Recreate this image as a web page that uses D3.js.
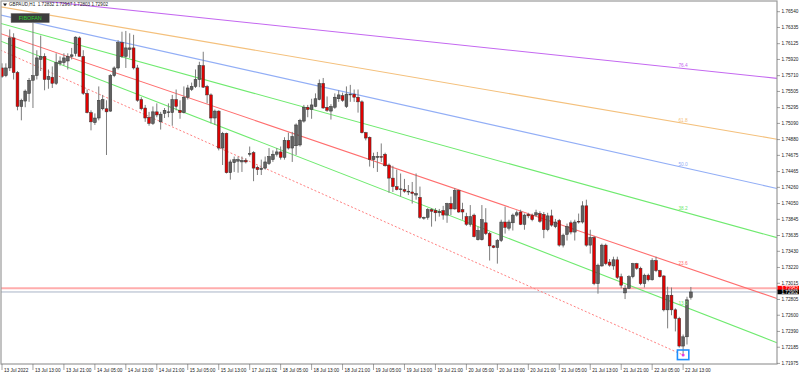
<!DOCTYPE html>
<html><head><meta charset="utf-8">
<script src="https://cdn.jsdelivr.net/npm/d3@7"></script>
<style>html,body{margin:0;padding:0;background:#fff;}svg{display:block;font-family:Arial,"Liberation Sans",sans-serif;}</style>
</head><body><svg id="c" width="800" height="375"></svg>
<script>
const symbol = "GBPAUD,H1";
const lastQuote = [1.72832, 1.72967, 1.72803, 1.72902];
const askPrice = 1.72952;
const bidPrice = 1.72902;

const open = [
1.7581,1.7571,1.7581,1.7620,1.7575,1.7531,1.7538,1.7548,1.7565,1.7571,
1.7592,1.7596,1.7566,1.7569,1.7561,1.7587,1.7588,1.7590,1.7596,1.7600,
1.7620,1.7596,1.7548,1.7523,1.7510,1.7516,1.7528,1.7528,1.7525,1.7571,
1.7581,1.7614,1.7596,1.7605,1.7607,1.7581,1.7540,1.7529,1.7517,1.7509,
1.7524,1.7511,1.7522,1.7523,1.7523,1.7540,1.7526,1.7523,1.7543,1.7553,
1.7557,1.7566,1.7584,1.7557,1.7546,1.7516,1.7525,1.7477,1.7496,1.7445,
1.7458,1.7460,1.7459,1.7461,1.7469,1.7471,1.7452,1.7449,1.7451,1.7457,
1.7462,1.7469,1.7472,1.7465,1.7487,1.7477,1.7480,1.7481,1.7512,1.7530,
1.7527,1.7531,1.7540,1.7561,1.7530,1.7525,1.7530,1.7541,1.7545,1.7531,
1.7546,1.7547,1.7543,1.7537,1.7497,1.7491,1.7462,1.7465,1.7466,1.7469,
1.7455,1.7438,1.7427,1.7423,1.7423,1.7420,1.7420,1.7416,1.7413,1.7386,
1.7387,1.7397,1.7396,1.7393,1.7396,1.7390,1.7405,1.7398,1.7422,1.7397,
1.7388,1.7378,1.7390,1.7358,1.7358,1.7380,1.7366,1.7350,1.7348,1.7357,
1.7381,1.7373,1.7380,1.7390,1.7394,1.7378,1.7391,1.7390,1.7390,1.7392,
1.7391,1.7371,1.7389,1.7375,1.7383,1.7351,1.7365,1.7380,1.7368,1.7382,
1.7381,1.7402,1.7351,1.7361,1.7301,1.7324,1.7351,1.7329,1.7324,1.7332,
1.7310,1.7289,1.7295,1.7310,1.7327,1.7321,1.7301,1.7312,1.7306,1.7331,
1.7318,1.7311,1.7267,1.7286,1.7267,1.7256,1.7220,1.7232,1.72832];
const high = [
1.7587,1.7587,1.7631,1.7626,1.7577,1.7541,1.7553,1.7568,1.7640,1.7604,
1.7623,1.7600,1.7579,1.7583,1.7600,1.7596,1.7600,1.7600,1.7607,1.7622,
1.7622,1.7604,1.7553,1.7526,1.7522,1.7557,1.7546,1.7539,1.7573,1.7583,
1.7617,1.7628,1.7629,1.7626,1.7624,1.7585,1.7543,1.7533,1.7524,1.7531,
1.7535,1.7524,1.7529,1.7535,1.7546,1.7553,1.7539,1.7557,1.7559,1.7562,
1.7579,1.7589,1.7602,1.7559,1.7548,1.7527,1.7526,1.7498,1.7497,1.7462,
1.7466,1.7466,1.7466,1.7464,1.7479,1.7473,1.7454,1.7462,1.7466,1.7477,
1.7474,1.7477,1.7479,1.7491,1.7497,1.7498,1.7509,1.7515,1.7533,1.7533,
1.7541,1.7548,1.7566,1.7568,1.7544,1.7534,1.7548,1.7552,1.7549,1.7557,
1.7559,1.7553,1.7553,1.7539,1.7498,1.7492,1.7471,1.7472,1.7483,1.7471,
1.7457,1.7454,1.7449,1.7444,1.7437,1.7429,1.7433,1.7444,1.7427,1.7388,
1.7399,1.7399,1.7399,1.7398,1.7402,1.7406,1.7414,1.7425,1.7423,1.7406,
1.7393,1.7403,1.7392,1.7375,1.7403,1.7399,1.7368,1.7351,1.7359,1.7384,
1.7401,1.7384,1.7392,1.7396,1.7397,1.7392,1.7393,1.7392,1.7397,1.7395,
1.7394,1.7393,1.7397,1.7385,1.7385,1.7366,1.7379,1.7383,1.7384,1.7392,
1.7408,1.7410,1.7371,1.7363,1.7327,1.7353,1.7353,1.7333,1.7336,1.7336,
1.7314,1.7299,1.7312,1.7328,1.7328,1.7323,1.7314,1.7314,1.7334,1.7336,
1.7319,1.7312,1.7297,1.7296,1.7269,1.7258,1.7235,1.7284,1.72967];
const low = [
1.7568,1.7569,1.7577,1.7566,1.7526,1.7513,1.7530,1.7537,1.7529,1.7566,
1.7577,1.7552,1.7554,1.7555,1.7559,1.7584,1.7584,1.7579,1.7592,1.7596,
1.7596,1.7546,1.7522,1.7500,1.7507,1.7513,1.7526,1.7468,1.7524,1.7569,
1.7579,1.7594,1.7581,1.7594,1.7579,1.7537,1.7526,1.7511,1.7506,1.7507,
1.7517,1.7501,1.7516,1.7517,1.7506,1.7526,1.7515,1.7522,1.7540,1.7551,
1.7555,1.7556,1.7555,1.7535,1.7509,1.7507,1.7474,1.7455,1.7444,1.7436,
1.7446,1.7445,1.7446,1.7457,1.7466,1.7434,1.7442,1.7442,1.7449,1.7455,
1.7459,1.7466,1.7462,1.7462,1.7475,1.7459,1.7468,1.7479,1.7510,1.7517,
1.7515,1.7530,1.7539,1.7528,1.7524,1.7514,1.7528,1.7537,1.7537,1.7529,
1.7537,1.7537,1.7523,1.7496,1.7487,1.7453,1.7451,1.7446,1.7459,1.7453,
1.7419,1.7420,1.7422,1.7414,1.7419,1.7416,1.7405,1.7410,1.7385,1.7384,
1.7384,1.7375,1.7382,1.7388,1.7384,1.7380,1.7390,1.7397,1.7393,1.7384,
1.7376,1.7375,1.7361,1.7357,1.7357,1.7364,1.7331,1.7347,1.7327,1.7355,
1.7366,1.7370,1.7370,1.7388,1.7377,1.7371,1.7386,1.7382,1.7388,1.7380,
1.7360,1.7369,1.7375,1.7373,1.7349,1.7348,1.7357,1.7365,1.7357,1.7379,
1.7379,1.7349,1.7340,1.7299,1.7288,1.7323,1.7325,1.7323,1.7319,1.7307,
1.7295,1.7281,1.7294,1.7308,1.7319,1.7299,1.7296,1.7304,1.7305,1.7316,
1.7309,1.7265,1.7243,1.7260,1.7239,1.7218,1.7210,1.7222,1.72803];
const close = [
1.7570,1.7581,1.7620,1.7575,1.7531,1.7539,1.7551,1.7565,1.7571,1.7594,
1.7596,1.7566,1.7570,1.7561,1.7588,1.7590,1.7594,1.7596,1.7598,1.7621,
1.7596,1.7548,1.7523,1.7511,1.7516,1.7539,1.7540,1.7524,1.7571,1.7581,
1.7614,1.7596,1.7607,1.7607,1.7581,1.7539,1.7528,1.7516,1.7509,1.7524,
1.7520,1.7521,1.7526,1.7524,1.7540,1.7531,1.7523,1.7543,1.7555,1.7557,
1.7566,1.7584,1.7556,1.7546,1.7516,1.7525,1.7477,1.7496,1.7445,1.7459,
1.7462,1.7462,1.7461,1.7459,1.7470,1.7451,1.7449,1.7451,1.7459,1.7466,
1.7469,1.7472,1.7465,1.7487,1.7477,1.7492,1.7507,1.7513,1.7530,1.7527,
1.7533,1.7541,1.7561,1.7529,1.7526,1.7531,1.7543,1.7546,1.7539,1.7547,
1.7547,1.7543,1.7537,1.7497,1.7490,1.7462,1.7466,1.7466,1.7465,1.7454,
1.7438,1.7427,1.7423,1.7424,1.7421,1.7421,1.7418,1.7418,1.7387,1.7387,
1.7397,1.7395,1.7393,1.7395,1.7390,1.7405,1.7398,1.7422,1.7394,1.7394,
1.7378,1.7388,1.7362,1.7370,1.7384,1.7366,1.7350,1.7348,1.7357,1.7381,
1.7374,1.7381,1.7390,1.7393,1.7378,1.7390,1.7389,1.7384,1.7393,1.7382,
1.7371,1.7389,1.7377,1.7381,1.7351,1.7364,1.7375,1.7368,1.7381,1.7381,
1.7402,1.7351,1.7361,1.7301,1.7325,1.7351,1.7327,1.7325,1.7332,1.7309,
1.7299,1.7295,1.7310,1.7327,1.7321,1.7301,1.7312,1.7306,1.7331,1.7318,
1.7310,1.7267,1.7286,1.7267,1.7256,1.7220,1.7232,1.7280,1.72902];

const xTickBars = [0,8,16,24,32,40,48,56,64,72,80,88,96,104,112,120,128,136,144,152,160,168,176];
const xTickLabels = ["13 Jul 2022","13 Jul 13:00","13 Jul 21:00","14 Jul 05:00","14 Jul 13:00","14 Jul 21:00",
"15 Jul 05:00","15 Jul 13:00","17 Jul 21:02","18 Jul 05:00","18 Jul 13:00","18 Jul 21:00","19 Jul 05:00",
"19 Jul 13:00","19 Jul 21:00","20 Jul 05:00","20 Jul 13:00","20 Jul 21:00","21 Jul 05:00","21 Jul 13:00",
"21 Jul 21:00","22 Jul 05:00","22 Jul 13:00"];
const yTicks = [1.76540,1.76335,1.76125,1.75920,1.75710,1.75505,1.75295,1.75090,1.74880,1.74675,1.74465,
1.74260,1.74050,1.73845,1.73635,1.73430,1.73220,1.73015,1.72805,1.72600,1.72390,1.72185,1.71975];

const fanLevels = [76.4, 61.8, 50.0, 38.2, 23.6, 13.0];
const fanStartBar = -41, fanStartPrice = 1.76952;
const fanEndBar = 176, fanEndPrice = 1.72084;
const fanColors = ["#c468f0","#f4c07c","#92aef6","#6fea6f","#ff6e6e","#6fea6f"];

const svg = d3.select("#c");
const L = 1, T = 1, R = 777, B = 364;
const x = d3.scaleLinear().domain([0, 200]).range([2, 776]);
const y = d3.scaleLinear().domain([1.71975, 1.76540]).range([363.4, 11.7]);

svg.append("defs").append("clipPath").attr("id","clip")
  .append("rect").attr("x",L).attr("y",T).attr("width",R-L).attr("height",B-T);

const plot = svg.append("g").attr("clip-path","url(#clip)");

// price lines
plot.append("line").attr("x1",L).attr("x2",R).attr("y1",y(askPrice)).attr("y2",y(askPrice))
  .attr("stroke","#ffadad").attr("stroke-width",2);
plot.append("line").attr("x1",L).attr("x2",R).attr("y1",y(bidPrice)).attr("y2",y(bidPrice))
  .attr("stroke","#a8b3c6").attr("stroke-width",1);

// fib fan
const ax = x(fanStartBar), ay = y(fanStartPrice);
const bx = x(fanEndBar), by = y(fanEndPrice);
fanLevels.forEach((lv, i) => {
  const py = ay + (1 - lv/100) * (by - ay);
  const slope = (py - ay) / (bx - ax);
  plot.append("line").attr("x1",ax).attr("y1",ay).attr("x2",R).attr("y2",ay + slope*(R-ax))
    .attr("stroke",fanColors[i]).attr("stroke-width",1.1);
  svg.append("text").attr("x",bx).attr("y",py-1.6).attr("text-anchor","middle")
    .attr("font-size",4.8).attr("fill",fanColors[i]).text(lv.toFixed(1));
});
plot.append("line").attr("x1",ax).attr("y1",ay).attr("x2",bx).attr("y2",by)
  .attr("stroke","#ff8080").attr("stroke-width",1).attr("stroke-dasharray","2,2");

// candles
const idx = d3.range(open.length);
const cg = plot.append("g");
cg.selectAll("line.w").data(idx).join("line")
  .attr("x1",i=>x(i)).attr("x2",i=>x(i)).attr("y1",i=>y(high[i])).attr("y2",i=>y(low[i]))
  .attr("stroke","#7d7d7d").attr("stroke-width",1);
cg.selectAll("rect.b").data(idx).join("rect")
  .attr("x",i=>x(i)-1.4).attr("width",2.8)
  .attr("y",i=>y(Math.max(open[i],close[i])))
  .attr("height",i=>Math.max(0.8, y(Math.min(open[i],close[i])) - y(Math.max(open[i],close[i]))))
  .attr("fill",i=>close[i] >= open[i] ? "#626262" : "#e00000")
  .attr("stroke","#333").attr("stroke-width",0.5);

// low marker
svg.append("rect").attr("x",bx-5.7).attr("y",by-5).attr("width",11.4).attr("height",9.6)
  .attr("fill","none").attr("stroke","#1e8fff").attr("stroke-width",1.6);
svg.append("circle").attr("cx",bx).attr("cy",by).attr("r",1.5).attr("fill","#e03ce0");

// frame
svg.append("rect").attr("x",L).attr("y",T).attr("width",R-L).attr("height",B-T)
  .attr("fill","none").attr("stroke","#9a9a9a").attr("stroke-width",1.2);

// y axis
const ya = svg.append("g");
yTicks.forEach(v => {
  ya.append("line").attr("x1",R).attr("x2",R+3).attr("y1",y(v)).attr("y2",y(v)).attr("stroke","#666").attr("stroke-width",0.6);
  ya.append("text").attr("x",R+4.5).attr("y",y(v)).attr("dy","0.35em").attr("font-size",4.7).attr("fill","#222").text(v.toFixed(5));
});
// current price labels
[[askPrice,"#ff0000"],[bidPrice,"#000000"]].forEach(([p,c])=>{
  ya.append("rect").attr("x",R+0.5).attr("y",y(p)-2.3).attr("width",21.5).attr("height",4.6).attr("fill",c);
  ya.append("text").attr("x",R+4.5).attr("y",y(p)).attr("dy","0.35em").attr("font-size",4.6).attr("fill","#fff").text(p.toFixed(5));
});

// x axis
const xa = svg.append("g");
xTickBars.forEach((b, i) => {
  xa.append("line").attr("x1",x(b)).attr("x2",x(b)).attr("y1",B).attr("y2",B+6).attr("stroke","#666").attr("stroke-width",0.6);
  xa.append("text").attr("x",x(b)+2).attr("y",370).attr("dy","0.35em").attr("font-size",4.7).attr("fill","#222").text(xTickLabels[i]);
});

// title
svg.append("path").attr("d","M3,3.6 L7,3.6 L5,6.2 Z").attr("fill","#222");
svg.append("text").attr("x",9).attr("y",4.8).attr("dy","0.35em").attr("font-size",4.6).attr("fill","#222")
  .attr("xml:space","preserve")
  .text(symbol + "  " + lastQuote.map(v=>v.toFixed(5)).join(" "));

// FIBOFAN label
svg.append("rect").attr("x",11).attr("y",13.3).attr("width",38.3).attr("height",9.4)
  .attr("fill","#3d3d3d").attr("stroke","#8a8a8a").attr("stroke-width",0.5);
svg.append("text").attr("x",30.2).attr("y",18).attr("dy","0.35em").attr("text-anchor","middle")
  .attr("font-size",5.4).attr("fill","#2fd22f").text("FIBOFAN");
</script></body></html>
